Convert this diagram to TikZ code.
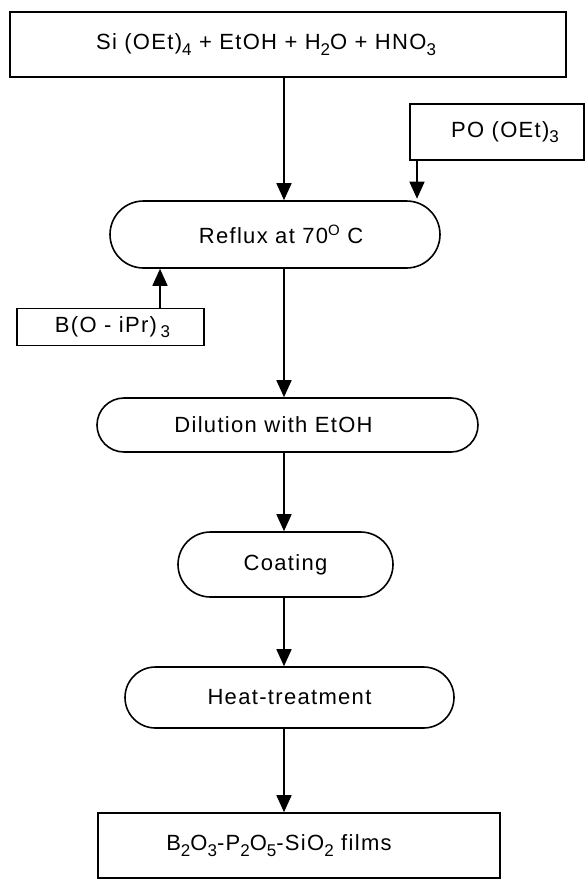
\documentclass[tikz,border=0pt]{standalone}
\usepackage{fontspec}
\setmainfont{Liberation Sans}[LetterSpace=6]
\usetikzlibrary{shapes.misc,arrows.meta}
\newcommand{\shiftx}[2]{\hspace*{#1}#2\hspace*{-#1}}
\newcommand{\sbs}[1]{\raisebox{-0.45ex}{\fontsize{17}{17}\selectfont #1}}
\newcommand{\sps}[1]{\raisebox{0.75ex}{\fontsize{15}{15}\selectfont #1}}
\begin{document}
\begin{tikzpicture}[x=1pt,y=-1pt,
  every node/.style={font=\fontsize{22}{26}\selectfont, inner sep=0pt},
  sqbox/.style={draw, line width=1.6pt, rectangle},
  rndbox/.style={draw, line width=1.6pt, rounded rectangle},
  arr/.style={line width=1.6pt, -{Triangle[width=15pt,length=17pt]}}]
\useasboundingbox (0,0) rectangle (587,880);
\node[sqbox, minimum width=556pt, minimum height=65pt] (top) at (288,44.5)
  {\shiftx{-22pt}{Si (OEt)\sbs{4} + EtOH + H\sbs{2}O + HNO\sbs{3}}};
\node[sqbox, minimum width=174pt, minimum height=56pt] (po) at (497,132)
  {\shiftx{8pt}{PO (OEt)\sbs{3}}};
\node[rndbox, minimum width=330pt, minimum height=67pt] (reflux) at (275,234.5)
  {\shiftx{6pt}{Reflux at 70\sps{O} C}};
\node[sqbox, minimum width=187pt, minimum height=37pt] (bo) at (110.5,327)
  {\shiftx{2pt}{B(O - iPr)\,\sbs{3}}};
\node[rndbox, minimum width=381pt, minimum height=54pt] (dil) at (287.5,425)
  {\shiftx{-14pt}{Dilution with EtOH}};
\node[rndbox, minimum width=215pt, minimum height=65pt] (coat) at (285.5,564.5)
  {Coating};
\node[rndbox, minimum width=329pt, minimum height=61pt] (heat) at (289.5,697.5)
  {Heat-treatment};
\node[sqbox, minimum width=402pt, minimum height=65pt] (fin) at (299,845.5)
  {\shiftx{-20pt}{B\sbs{2}O\sbs{3}-P\sbs{2}O\sbs{5}-SiO\sbs{2} films}};
\coordinate (sp) at (284,0);
\coordinate (pa) at (417,0);
\coordinate (ba) at (160,0);
\draw[arr] (top.south -| sp) -- (reflux.north -| sp);
\draw[arr] (po.south -| pa) -- ([yshift=1.5pt]reflux.north -| pa);
\draw[arr] (bo.north -| ba) -- (reflux.south -| ba);
\draw[arr] (reflux.south -| sp) -- (dil.north -| sp);
\draw[arr] (dil.south -| sp) -- (coat.north -| sp);
\draw[arr] (coat.south -| sp) -- (heat.north -| sp);
\draw[arr] (heat.south -| sp) -- (fin.north -| sp);
\end{tikzpicture}
\end{document}
